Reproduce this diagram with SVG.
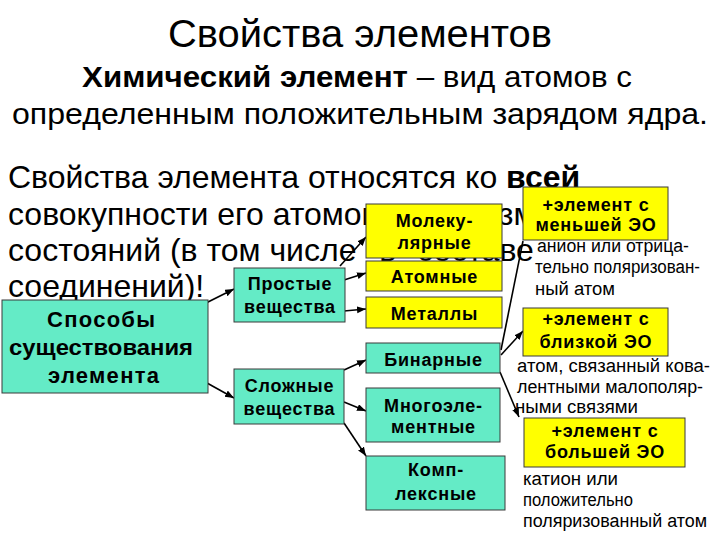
<svg xmlns="http://www.w3.org/2000/svg" width="720" height="540" viewBox="0 0 720 540">
<style>
.narrow{font-family:"Liberation Sans Narrow","Liberation Sans",Arial,sans-serif;fill:#000}
.body{font-family:"Liberation Sans",Arial,sans-serif;font-size:32px;fill:#000}
.lbl{font-family:"Liberation Sans",Arial,sans-serif;font-size:18px;font-weight:bold;letter-spacing:0.8px;fill:#000;text-anchor:middle}
.big{font-family:"Liberation Sans",Arial,sans-serif;font-size:22px;font-weight:bold;fill:#000}
.note{font-family:"Liberation Sans",Arial,sans-serif;font-size:18px;fill:#000}
.teal{fill:#64EBC6;stroke:#3a3a3a;stroke-width:1}
.yel{fill:#FFFF00;stroke:#3a3a3a;stroke-width:1}
.conn line{stroke:#000;stroke-width:1.6}
</style>
<defs>
<marker id="ah" markerUnits="userSpaceOnUse" markerWidth="10" markerHeight="8" refX="9" refY="3.5" orient="auto">
<path d="M0,0 L9,3.5 L0,7 z" fill="#000"/>
</marker>
</defs>
<rect width="720" height="540" fill="#fff"/>
<g id="title">
<text class="narrow" x="168" y="47" font-size="38" textLength="384" lengthAdjust="spacingAndGlyphs">Свойства элементов</text>
<text class="narrow" x="82" y="87" font-size="30" textLength="550" lengthAdjust="spacingAndGlyphs"><tspan font-weight="bold">Химический элемент</tspan> – вид атомов с</text>
<text class="narrow" x="12" y="124" font-size="30" textLength="696" lengthAdjust="spacingAndGlyphs">определенным положительным зарядом ядра.</text>
</g>
<g id="body-text">
<text class="body" x="8" y="188">Свойства элемента относятся ко <tspan font-weight="bold">всей</tspan></text>
<text class="body" x="8" y="225">совокупности его атомов и всевозможных</text>
<text class="body" x="8" y="261">состояний (в том числе<tspan dx="14"> в</tspan><tspan dx="12"> составе</tspan></text>
<text class="body" x="8" y="297">соединений)!</text>
</g>
<g id="connectors" class="conn">
<line x1="206" y1="303" x2="234" y2="289" marker-end="url(#ah)"/>
<line x1="207" y1="383" x2="234" y2="398" marker-end="url(#ah)"/>
<line x1="340" y1="266" x2="366" y2="237" marker-end="url(#ah)"/>
<line x1="344" y1="280" x2="366" y2="273" marker-end="url(#ah)"/>
<line x1="344" y1="311" x2="366" y2="309" marker-end="url(#ah)"/>
<line x1="344" y1="370" x2="366" y2="360" marker-end="url(#ah)"/>
<line x1="344" y1="402" x2="366" y2="411" marker-end="url(#ah)"/>
<line x1="344" y1="423" x2="366" y2="456" marker-end="url(#ah)"/>
<line x1="501" y1="350" x2="523" y2="241"/>
<line x1="501" y1="355" x2="523" y2="331" marker-end="url(#ah)"/>
<line x1="500" y1="372" x2="519" y2="417" marker-end="url(#ah)"/>
</g>
<g id="sposoby">
<rect class="teal" x="2" y="300" width="206" height="93"/>
<text class="big" x="47" y="327" textLength="108" lengthAdjust="spacing">Способы</text>
<text class="big" x="9" y="355" textLength="184" lengthAdjust="spacingAndGlyphs">существования</text>
<text class="big" x="48" y="383" textLength="111" lengthAdjust="spacing">элемента</text>
</g>
<g id="prostye">
<rect class="teal" x="234" y="268" width="111" height="54"/>
<text class="lbl" x="290" y="290">Простые</text>
<text class="lbl" x="290" y="313">вещества</text>
</g>
<g id="slozhnye">
<rect class="teal" x="234" y="369" width="110" height="55"/>
<text class="lbl" x="289.5" y="392">Сложные</text>
<text class="lbl" x="289.5" y="415">вещества</text>
</g>
<g id="molekulyarnye">
<rect class="yel" x="366" y="204" width="136" height="54"/>
<text class="lbl" x="434.5" y="227">Молеку-</text>
<text class="lbl" x="434.5" y="249">лярные</text>
</g>
<g id="atomnye">
<rect class="yel" x="366" y="261" width="136" height="30"/>
<text class="lbl" x="434.5" y="283">Атомные</text>
</g>
<g id="metally">
<rect class="yel" x="366" y="297" width="136" height="31"/>
<text class="lbl" x="434.5" y="320">Металлы</text>
</g>
<g id="binarnye">
<rect class="teal" x="366" y="343" width="134" height="30"/>
<text class="lbl" x="433.5" y="366">Бинарные</text>
</g>
<g id="mnogoelementnye">
<rect class="teal" x="366" y="388" width="134" height="54"/>
<text class="lbl" x="433.5" y="412">Многоэле-</text>
<text class="lbl" x="433.5" y="433">ментные</text>
</g>
<g id="kompleksnye">
<rect class="teal" x="366" y="456" width="139" height="54"/>
<text class="lbl" x="436" y="476">Комп-</text>
<text class="lbl" x="436" y="500">лексные</text>
</g>
<g id="menshey">
<rect class="yel" x="523" y="187" width="145" height="53"/>
<text class="lbl" x="596" y="211">+элемент с</text>
<text class="lbl" x="596" y="231">меньшей ЭО</text>
<text class="note" x="537" y="252" textLength="152" lengthAdjust="spacingAndGlyphs">анион или отрица-</text>
<text class="note" x="535" y="273" textLength="165" lengthAdjust="spacingAndGlyphs">тельно поляризован-</text>
<text class="note" x="535" y="295" textLength="80" lengthAdjust="spacingAndGlyphs">ный атом</text>
</g>
<g id="blizkoy">
<rect class="yel" x="523" y="308" width="145" height="48"/>
<text class="lbl" x="596" y="325">+элемент с</text>
<text class="lbl" x="596" y="348">близкой ЭО</text>
<text class="note" x="517" y="372" textLength="193" lengthAdjust="spacingAndGlyphs">атом, связанный кова-</text>
<text class="note" x="517" y="393" textLength="186" lengthAdjust="spacingAndGlyphs">лентными малополяр-</text>
<text class="note" x="515" y="413" textLength="123" lengthAdjust="spacingAndGlyphs">ными связями</text>
</g>
<g id="bolshey">
<rect class="yel" x="524" y="418" width="161" height="49"/>
<text class="lbl" x="605" y="437">+элемент с</text>
<text class="lbl" x="605" y="458">большей ЭО</text>
<text class="note" x="523" y="485" textLength="95" lengthAdjust="spacingAndGlyphs">катион или</text>
<text class="note" x="523" y="506" textLength="110" lengthAdjust="spacingAndGlyphs">положительно</text>
<text class="note" x="523" y="527" textLength="184" lengthAdjust="spacingAndGlyphs">поляризованный атом</text>
</g>
</svg>
